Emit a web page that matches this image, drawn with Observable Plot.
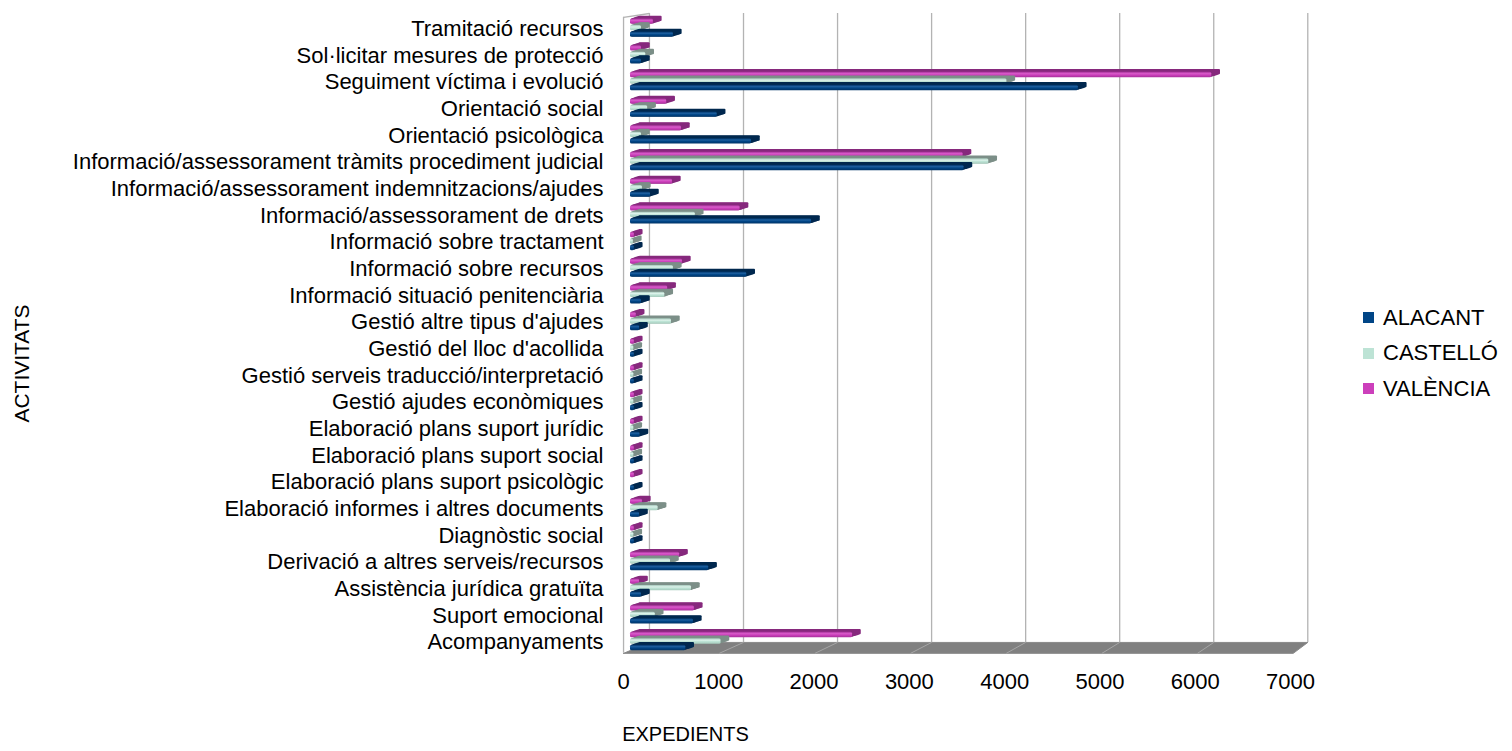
<!DOCTYPE html>
<html><head><meta charset="utf-8">
<script src="https://cdn.jsdelivr.net/npm/d3@7"></script>
<script src="https://cdn.jsdelivr.net/npm/@observablehq/plot@0.6"></script>
<style>
body{margin:0;background:#fff;font-family:"Liberation Sans",Arial,sans-serif}
#wrap{position:relative;width:1512px;height:751px}
.legend{position:absolute;left:1363px;top:300px;font-size:22px;color:#000;font-family:"Liberation Sans",Arial,sans-serif}
.legend div{display:flex;align-items:center;height:35.5px;white-space:nowrap}
.legend .sw{width:11px;height:11px;margin-right:9px;display:inline-block}
</style></head>
<body><div id="wrap"></div>
<script>
const activities = [
  "Tramitació recursos",
  "Sol·licitar mesures de protecció",
  "Seguiment víctima i evolució",
  "Orientació social",
  "Orientació psicològica",
  "Informació/assessorament tràmits procediment judicial",
  "Informació/assessorament indemnitzacions/ajudes",
  "Informació/assessorament de drets",
  "Informació sobre tractament",
  "Informació sobre recursos",
  "Informació situació penitenciària",
  "Gestió altre tipus d'ajudes",
  "Gestió del lloc d'acollida",
  "Gestió serveis traducció/interpretació",
  "Gestió ajudes econòmiques",
  "Elaboració plans suport jurídic",
  "Elaboració plans suport social",
  "Elaboració plans suport psicològic",
  "Elaboració informes i altres documents",
  "Diagnòstic social",
  "Derivació a altres serveis/recursos",
  "Assistència jurídica gratuïta",
  "Suport emocional",
  "Acompanyaments"
];
const alacant  = [450, 115, 4700, 910, 1270, 3500, 210, 1900, 40, 1220, 115, 95, 40, 40, 40, 100, 40, 40, 95, 40, 820, 115, 660, 580];
const castello = [115, 160, 3950, 180, 115, 3760, 125, 680, 30, 450, 360, 430, 35, 35, 35, 35, 35, 0, 290, 35, 420, 640, 260, 950];
const valencia = [240, 115, 6100, 380, 535, 3490, 440, 1150, 40, 545, 390, 60, 40, 40, 40, 40, 40, 40, 125, 40, 515, 95, 670, 2330];
const seriesNames = ["ALACANT", "CASTELLÓ", "VALÈNCIA"];
const xTicks = [0, 1000, 2000, 3000, 4000, 5000, 6000, 7000];

const seriesStyle = {
  "VALÈNCIA": {face: "url(#gV)", side: "#86297d", swatch: "#cc3fbb", off: -0.27},
  "CASTELLÓ": {face: "url(#gC)", side: "#7c8f88", swatch: "#bde3d5", off: -0.026},
  "ALACANT":  {face: "url(#gA)", side: "#00284f", swatch: "#004586", off: 0.2175}
};
const valuesBySeries = {"ALACANT": alacant, "CASTELLÓ": castello, "VALÈNCIA": valencia};
const half = 0.1;

// 3D frame helpers (depth projection of the value axis)
const front = v => v * 1.004 - 73;
const back = v => v * 0.987 + 199;
const yFront = 23.42, yBack = 23.01, yTop = -0.575, yTopFront = -0.43;

const marks = [];
// floor
marks.push(Plot.line([
  {x: front(0), y: yFront}, {x: front(7000), y: yFront},
  {x: back(7000), y: yBack}, {x: back(0), y: yBack}, {x: front(0), y: yFront}
], {x: "x", y: "y", fill: "#808080", stroke: "#8a8a8a", strokeWidth: 1}));
// floor lines
marks.push(Plot.link(xTicks.slice(1, -1), {x1: d => front(d), y1: yFront, x2: d => back(d), y2: yBack, stroke: "#a6a6a6", strokeWidth: 1}));
// back wall gridlines
marks.push(Plot.ruleX(xTicks, {x: d => back(d), y1: yTop, y2: yBack, stroke: "#b3b3b3", strokeWidth: 1.3}));
// left wall
marks.push(Plot.ruleX([0], {x: d => front(d), y1: yTopFront, y2: yFront, stroke: "#b3b3b3", strokeWidth: 1.3}));
marks.push(Plot.link([0], {x1: d => front(d), y1: yTopFront, x2: d => back(d), y2: yTop, stroke: "#b3b3b3", strokeWidth: 1.3}));

// bars, series from top (VALÈNCIA) to bottom (ALACANT); extrusion drawn as stacked offsets
const steps = 7;
for (const s of ["VALÈNCIA", "CASTELLÓ", "ALACANT"]) {
  const st = seriesStyle[s];
  const rows = activities.map((a, i) => ({activity: a, i, series: s, value: valuesBySeries[s][i], yc: i + st.off}))
    .filter(d => d.value > 0);
  for (let k = steps; k >= 1; k--) {
    marks.push(Plot.rect(rows, {x1: 0, x2: "value", y1: d => d.yc - half, y2: d => d.yc + half,
      fill: st.side, dx: k * 1.25, dy: -k * 0.4, rx: 1}));
  }
  marks.push(Plot.rect(rows, {x1: 0, x2: "value", y1: d => d.yc - half, y2: d => d.yc + half, fill: st.face, rx: 1.5}));
}

// x tick labels
marks.push(Plot.text(xTicks, {x: d => d, text: d => String(d), frameAnchor: "bottom", dy: 33, dx: -7, fontSize: 22}));
// axis titles
marks.push(Plot.text(["EXPEDIENTS"], {text: d => d, frameAnchor: "bottom-left", textAnchor: "middle", dx: 55, dy: 85, fontSize: 20}));
marks.push(Plot.text(["ACTIVITATS"], {text: d => d, frameAnchor: "left", textAnchor: "middle", dx: -608, dy: 28, rotate: -90, fontSize: 21}));

const chart = Plot.plot({
  width: 1512,
  height: 751,
  marginLeft: 630,
  marginRight: 215,
  marginTop: 15,
  marginBottom: 96,
  style: {fontFamily: "'Liberation Sans', Arial, sans-serif", fontSize: "22px", color: "#000", background: "#fff", overflow: "visible"},
  x: {domain: [0, 7000], axis: null},
  y: {domain: [-0.5, 23.5], reverse: true, ticks: d3.range(activities.length), tickFormat: i => activities[i], tickSize: 0, tickPadding: 27, label: null},
  marks
});

// gradients for the cylindrical shading of bar faces
const svg = d3.select(chart.tagName.toLowerCase() === "svg" ? chart : chart.querySelector("svg"));
const defs = svg.insert("defs", ":first-child");
const grads = {
  gV: ["#a8329b", "#d95bca", "#cc3fbb", "#a8329b"],
  gC: ["#a3c6b9", "#dcf2ea", "#bde3d5", "#a7cbbd"],
  gA: ["#003467", "#1d5f9f", "#004586", "#003467"]
};
for (const [id, cols] of Object.entries(grads)) {
  const g = defs.append("linearGradient").attr("id", id).attr("x1", 0).attr("y1", 0).attr("x2", 0).attr("y2", 1);
  [0, 0.35, 0.6, 1].forEach((o, k) => g.append("stop").attr("offset", o).attr("stop-color", cols[k]));
}

const wrap = document.getElementById("wrap");
wrap.appendChild(chart);
const legend = document.createElement("div");
legend.className = "legend";
for (const s of seriesNames) {
  const row = document.createElement("div");
  const sw = document.createElement("span");
  sw.className = "sw";
  sw.style.background = seriesStyle[s].swatch;
  row.appendChild(sw);
  row.appendChild(document.createTextNode(s));
  legend.appendChild(row);
}
wrap.appendChild(legend);
</script>
</body></html>
